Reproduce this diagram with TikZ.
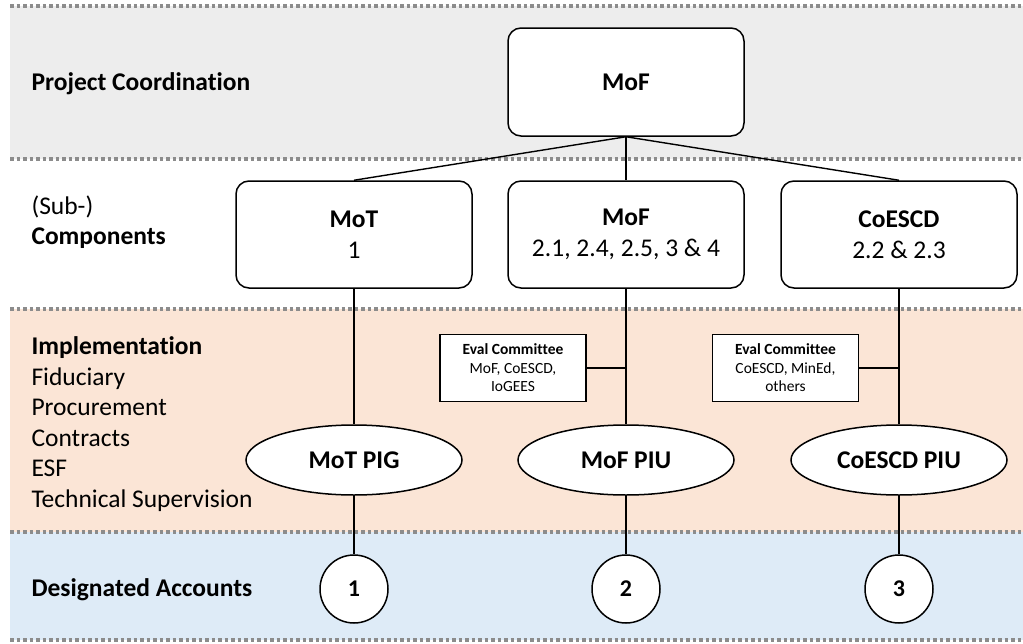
\documentclass[tikz,border=0pt]{standalone}
\usepackage{fontspec}
\setmainfont[Ligatures=NoCommon]{Carlito}
\usetikzlibrary{shapes.geometric}
\definecolor{coordgray}{RGB}{237,237,237}
\definecolor{implpeach}{RGB}{251,229,214}
\definecolor{acctblue}{RGB}{222,235,247}
\definecolor{sepgray}{RGB}{140,140,140}

\tikzset{
  sep/.style={line width=3.5pt, sepgray, dash pattern=on 3.5pt off 3pt},
  lane/.style={font=\fontsize{25.5}{30.5}\selectfont, anchor=west, align=left},
  orgbox/.style={draw, fill=white, line width=1.5pt, rounded corners=13pt,
    minimum width=236pt, minimum height=107pt, align=center,
    font=\fontsize{25.5}{31}\selectfont},
  unit/.style={draw, ellipse, fill=white, line width=1.5pt,
    minimum width=216pt, minimum height=70pt, inner sep=0pt,
    font=\fontsize{25.5}{31}\selectfont\bfseries},
  evalbox/.style={draw, fill=white, line width=1.5pt,
    minimum width=146pt, minimum height=67pt, align=center,
    font=\fontsize{15.5}{18.5}\selectfont},
  acct/.style={draw, circle, fill=white, line width=1.5pt,
    minimum size=68pt, inner sep=0pt, font=\fontsize{24}{26}\selectfont\bfseries},
  link/.style={line width=1.4pt}
}

\begin{document}
\begin{tikzpicture}[x=1pt, y=-1pt]
    \useasboundingbox (0,0) rectangle (1023,643);

    % Lane backgrounds
    \fill[coordgray] (10,6) rectangle (1023,159);
    \fill[implpeach] (10,309) rectangle (1023,532);
    \fill[acctblue] (10,532) rectangle (1023,640);

    % Lane separators
    \foreach \y in {6,159,309,532,640}
        \draw[sep] (10,\y) -- (1023,\y);

    % Lane labels
    \node[lane] (lcoord) at (28,84) {\bfseries Project Coordination};
    \node[lane] (lcomp) at (28,222) {(Sub-)\\\bfseries Components};
    \node[lane] (limpl) at (28,424) {\bfseries Implementation\\Fiduciary\\Procurement\\Contracts\\ESF\\Technical Supervision};
    \node[lane] (lacct) at (28,590) {\bfseries Designated Accounts};

    % Coordination
    \node[orgbox, minimum height=108pt] (mof) at (626,82) {\bfseries MoF};

    % Components
    \node[orgbox] (mot) at (354,234.5) {\bfseries MoT\\1};
    \node[orgbox] (mofc) at (626,234.5) {\bfseries MoF\\2.1, 2.4, 2.5, 3 \& 4};
    \node[orgbox] (coescd) at (899,234.5) {\bfseries CoESCD\\2.2 \& 2.3};

    % Implementation units
    \node[unit] (pig) at (354,460) {MoT PIG};
    \node[unit] (mofpiu) at (626,460) {MoF PIU};
    \node[unit] (coescdpiu) at (899,460) {CoESCD PIU};

    % Evaluation committees
    \node[evalbox] (evalmof) at (513,368) {\textbf{Eval Committee}\\MoF, CoESCD,\\IoGEES};
    \node[evalbox] (evalco) at (785.5,368) {\textbf{Eval Committee}\\CoESCD, MinEd,\\others};

    % Designated accounts
    \node[acct] (da1) at (354,589) {1};
    \node[acct] (da2) at (626,589) {2};
    \node[acct] (da3) at (899,589) {3};

    % Connectors
    \draw[link] (mof.south) -- (mot.north);
    \draw[link] (mof.south) -- (mofc.north);
    \draw[link] (mof.south) -- (coescd.north);
    \draw[link] (mot.south) -- (pig.north);
    \draw[link] (mofc.south) -- (mofpiu.north);
    \draw[link] (coescd.south) -- (coescdpiu.north);
    \draw[link] (pig.south) -- (da1.north);
    \draw[link] (mofpiu.south) -- (da2.north);
    \draw[link] (coescdpiu.south) -- (da3.north);
    \draw[link] (evalmof.east) -- (evalmof.east -| mofc.south);
    \draw[link] (evalco.east) -- (evalco.east -| coescd.south);
\end{tikzpicture}
\end{document}
